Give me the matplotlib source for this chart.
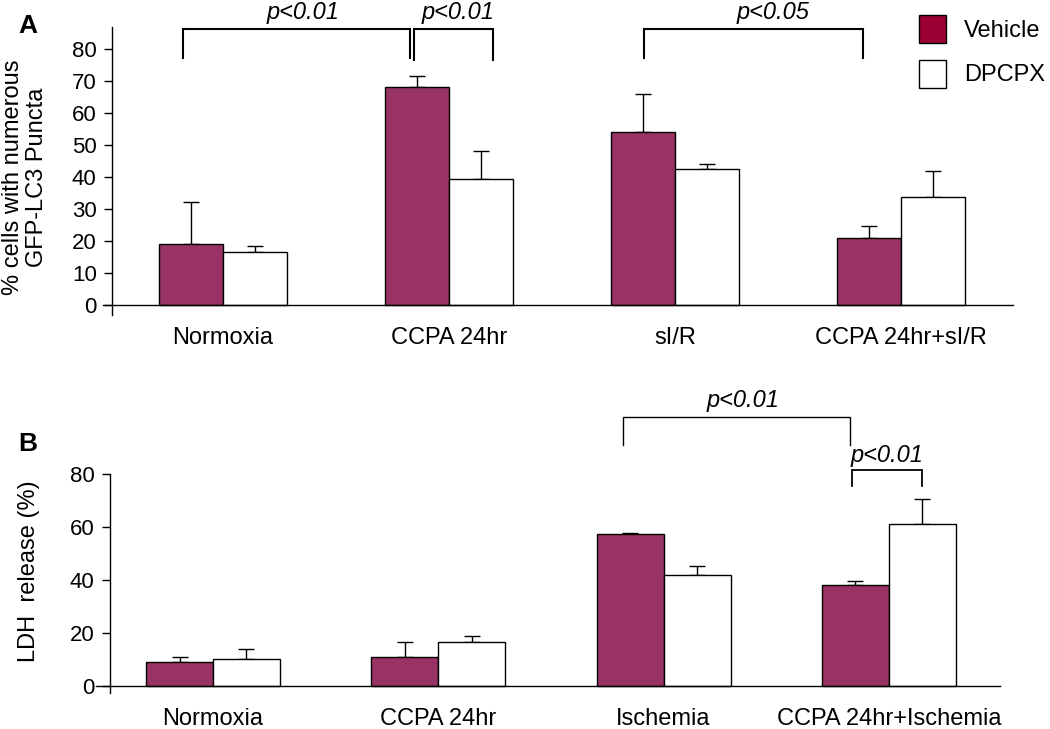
import numpy as np
import matplotlib.pyplot as plt
from matplotlib.patches import Patch

plt.rcParams['font.family'] = ['Liberation Sans', 'DejaVu Sans']

W, H = 1050, 729

# panel A data
groups_a = ['Normoxia', 'CCPA 24hr', 'sI/R', 'CCPA 24hr+sI/R']
veh_a = [19.1, 68.1, 54.1, 21.0]
veh_a_err = [13.2, 3.6, 12.0, 3.6]
dpc_a = [16.7, 39.4, 42.6, 33.8]
dpc_a_err = [1.9, 8.8, 1.6, 8.0]

# panel B data
groups_b = ['Normoxia', 'CCPA 24hr', 'Ischemia', 'CCPA 24hr+Ischemia']
veh_b = [9.2, 11.1, 57.4, 38.0]
veh_b_err = [1.9, 5.6, 0.3, 1.5]
dpc_b = [10.2, 16.7, 41.9, 61.1]
dpc_b_err = [3.8, 2.2, 3.4, 9.3]

BAR_COL = '#993366'
LEG_COL = '#9b0034'


def px_box(l, t, r, b):
    return [l / W, 1 - b / H, (r - l) / W, (b - t) / H]


def draw_panel(ax, groups, veh, veh_err, dpc, dpc_err, w):
    x = np.arange(len(groups))
    zeros = np.zeros(len(groups))
    ax.bar(x - w / 2, veh, w, color=BAR_COL, edgecolor='black', linewidth=1.0, zorder=2)
    ax.bar(x + w / 2, dpc, w, color='white', edgecolor='black', linewidth=1.0, zorder=2)
    ax.errorbar(x - w / 2, veh, yerr=[zeros, veh_err], fmt='none', ecolor='black',
                elinewidth=1.0, capsize=6, capthick=1.0, zorder=1)
    ax.errorbar(x + w / 2, dpc, yerr=[zeros, dpc_err], fmt='none', ecolor='black',
                elinewidth=1.0, capsize=6, capthick=1.0, zorder=1)
    for s in ['top', 'right', 'bottom']:
        ax.spines[s].set_visible(False)
    ax.spines['left'].set_linewidth(1.0)
    ax.set_xticks(x)
    ax.set_xticklabels(groups, fontsize=17)
    ax.tick_params(axis='y', labelsize=16, length=6, width=1.0, pad=5)
    return x


def bracket(ax, x1, x2, yt, yb1, yb2, lw, label, tx, ty):
    ax.plot([x1, x1, x2, x2], [yb1, yt, yt, yb2], color='black', lw=lw,
            clip_on=False, solid_joinstyle='miter')
    ax.text(tx, ty, label, ha='center', va='baseline', fontsize=17,
            style='italic', clip_on=False)


fig = plt.figure(figsize=(W / 100, H / 100), dpi=100)

# ---- panel A
axA = fig.add_axes(px_box(112, 27, 1013, 315))
draw_panel(axA, groups_a, veh_a, veh_a_err, dpc_a, dpc_a_err, 0.283)
axA.set_xlim(-0.491, 3.496)
axA.set_ylim(-3.1, 86.9)
axA.set_yticks(range(0, 81, 10))
axA.plot([-0.53, 3.496], [0, 0], color='black', lw=1.0, clip_on=False, zorder=3)
axA.tick_params(axis='x', length=0, pad=9)
bracket(axA, -0.177, 0.827, 86.25, 77.2, 77.2, 1.5, 'p<0.01', 0.354, 89.5)
bracket(axA, 0.845, 1.195, 86.25, 76.6, 76.6, 1.5, 'p<0.01', 1.04, 89.5)
bracket(axA, 1.863, 2.832, 86.25, 77.2, 77.2, 1.5, 'p<0.05', 2.434, 89.5)

fig.text(25 / W, 1 - 177 / H, '% cells with numerous\nGFP-LC3 Puncta', rotation=90,
         ha='center', va='center', fontsize=17, linespacing=1.15)
fig.text(28 / W, 1 - 26 / H, 'A', fontsize=19, fontweight='bold', ha='center', va='center')

handles = [Patch(facecolor=LEG_COL, edgecolor='black', linewidth=1.0),
           Patch(facecolor='white', edgecolor='black', linewidth=1.0)]
fig.legend(handles, ['Vehicle', 'DPCPX'], loc='upper left',
           bbox_to_anchor=(919 / W, 1 - 15 / H), frameon=False, fontsize=17,
           handlelength=1.15, handleheight=1.45, handletextpad=0.75,
           labelspacing=0.7, borderpad=0, borderaxespad=0)

# ---- panel B
axB = fig.add_axes(px_box(110, 474, 1000, 693))
draw_panel(axB, groups_b, veh_b, veh_b_err, dpc_b, dpc_b_err, 0.297)
axB.set_xlim(-0.457, 3.493)
axB.set_ylim(-2.64, 80)
axB.set_yticks(range(0, 81, 20))
axB.plot([-0.52, 3.493], [0, 0], color='black', lw=1.0, clip_on=False, zorder=3)
axB.tick_params(axis='x', length=0, pad=11)
bracket(axB, 1.82, 2.827, 101.5, 90.9, 90.9, 1.0, 'p<0.01', 2.352, 105.4)
bracket(axB, 2.836, 3.147, 81.5, 75.5, 75.5, 1.3, 'p<0.01', 2.99, 84.6)

fig.text(29 / W, 1 - 571 / H, 'LDH  release (%)', rotation=90,
         ha='center', va='center', fontsize=17)
fig.text(28 / W, 1 - 444 / H, 'B', fontsize=19, fontweight='bold', ha='center', va='center')

fig.savefig('out.png', dpi=100)
